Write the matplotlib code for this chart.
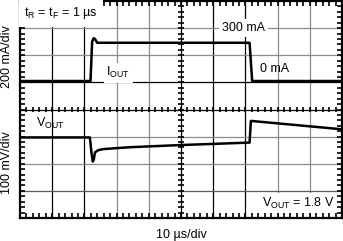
import numpy as np
import matplotlib
matplotlib.use("Agg")
from matplotlib import pyplot as plt

plt.rcParams['font.family'] = ['Liberation Sans', 'DejaVu Sans']
plt.rcParams['font.size'] = 9

# time in us (10 us/div), levels in screen divisions (0 = bottom, 8 = top)
t_iout = [0, 21.9, 22.4, 22.9, 23.3, 24.0, 71.3, 72.1, 100]
d_iout = [5.05, 5.05, 6.50, 6.63, 6.60, 6.46, 6.46, 5.05, 5.05]

t_vout = [0, 21.7, 22.2, 22.6, 22.9, 23.3, 24.3, 25.8, 34.2, 50.0, 71.3, 71.7, 100]
d_vout = [2.97, 2.97, 2.40, 2.08, 2.15, 2.42, 2.50, 2.54, 2.61, 2.69, 2.78, 3.58, 3.27]

# grid colours for the 9 inner verticals / 7 inner horizontals
vgrid_col = ['k', 'k', '0.55', '0.55', 'k', 'k', 'k', '0.55', '0.55']
hgrid_col = ['0.35', '0.55', '0.55', 'k', 'k', '0.55', '0.55']

W, H = 343, 241
fig = plt.figure(figsize=(W / 100, H / 100), dpi=100)
ax = fig.add_axes((20 / W, (H - 218) / H, 322 / W, 217 / H))
ax.set_xlim(0, 100)
ax.set_ylim(0, 8)
ax.set_xticks([])
ax.set_yticks([])
for s in ax.spines.values():
    s.set_linewidth(1.6)

for i, c in enumerate(vgrid_col):
    ax.axvline((i + 1) * 10, color=c, lw=0.9, zorder=1)
for i, c in enumerate(hgrid_col):
    ax.axhline(i + 1, color=c, lw=0.9, zorder=1)

# graticule ticks, 5 per division, on the border and on the centre cross
xt = np.arange(2, 100, 2)
yt = np.arange(0.2, 8, 0.2)
xtr = ax.get_xaxis_transform()
ytr = ax.get_yaxis_transform()
tk = dict(colors='k', linewidths=1.2, zorder=3)
ax.vlines(xt, 0, 0.025, transform=xtr, **tk)
ax.vlines(xt, 0.975, 1, transform=xtr, **tk)
ax.vlines(xt, 0.487, 0.513, transform=xtr, **tk)
ax.hlines(yt, 0, 0.016, transform=ytr, **tk)
ax.hlines(yt, 0.984, 1, transform=ytr, **tk)
ax.hlines(yt, 0.491, 0.509, transform=ytr, **tk)

ax.plot(t_iout, d_iout, color='k', lw=1.8, zorder=4, solid_joinstyle='round')
ax.plot(t_vout, d_vout, color='k', lw=1.8, zorder=4, solid_joinstyle='round')

box = dict(facecolor='white', edgecolor='none', pad=2)
ax.text(1.3, 7.55, r't$_\mathregular{R}$ = t$_\mathregular{F}$ = 1 µs',
        va='center', ha='left', zorder=5,
        bbox=dict(facecolor='white', edgecolor='none', pad=4))
ax.text(62.8, 7.0, '300 mA', va='center', ha='left', zorder=5, bbox=box)
ax.text(74.6, 5.5, '0 mA', va='center', ha='left', zorder=5)
ax.text(26.8, 5.35, r'I$_\mathregular{OUT}$', va='center', ha='left',
        zorder=5, bbox=box)
ax.text(5.0, 3.5, r'V$_\mathregular{OUT}$', va='center', ha='left', zorder=5)
ax.text(75.0, 0.55, r'V$_\mathregular{OUT}$ = 1.8 V', va='center', ha='left',
        zorder=5, bbox=box)

fig.text(7 / W, 1 - 57 / H, '200 mA/div', rotation=90, ha='center', va='center')
fig.text(7 / W, 1 - 163 / H, '100 mV/div', rotation=90, ha='center', va='center')
fig.text(181 / W, 1 - 235 / H, '10 µs/div', ha='center', va='center')

fig.savefig('out.png', dpi=100)
